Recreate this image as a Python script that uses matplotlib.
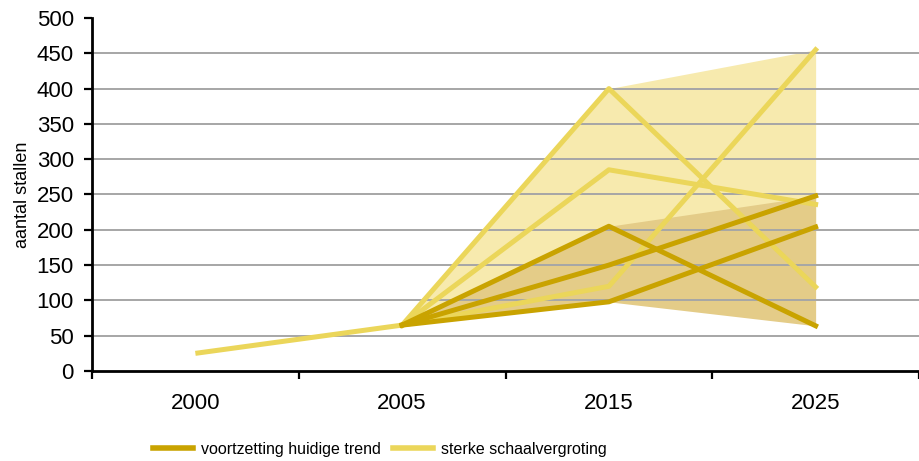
import numpy as np
import matplotlib
matplotlib.use("Agg")
import matplotlib.pyplot as plt
from matplotlib.ticker import FixedLocator

plt.rcParams['font.family'] = ['Liberation Sans', 'DejaVu Sans']

years = ['2000', '2005', '2015', '2025']
history = [25, 65]
trend = [[65, 205, 64], [65, 150, 248], [65, 98, 204]]
schaal = [[65, 400, 119], [65, 285, 236], [65, 120, 455]]

c_dark = '#c9a300'
c_light = '#ebd65a'
f_dark = '#e4cc88'
f_light = '#f7eaae'

x = np.arange(len(years))
xs = x[1:]

fig = plt.figure(figsize=(9.19, 4.61), dpi=100)
ax = fig.add_axes([92 / 919, 90 / 461, 827 / 919, 353 / 461])

sch = np.array(schaal)
tr = np.array(trend)
ax.fill_between(xs, sch.min(axis=0), sch.max(axis=0), color=f_light, lw=0, zorder=1)
ax.fill_between(xs, tr.min(axis=0), tr.max(axis=0), color=f_dark, lw=0, zorder=1.1)

ax.plot(x[:2], history, color=c_light, lw=3.6, solid_capstyle='butt', zorder=2)
for s in schaal:
    ax.plot(xs, s, color=c_light, lw=3.6, zorder=2)
for s in trend:
    ax.plot(xs, s, color=c_dark, lw=3.6, zorder=3)

ax.set_xlim(-0.5, 3.5)
ax.set_ylim(0, 500)
ax.set_yticks(np.arange(0, 501, 50))
ax.set_xticks(x)
ax.set_xticklabels(years)
ax.xaxis.set_minor_locator(FixedLocator(np.arange(-0.5, 4, 1)))
ax.tick_params(axis='x', which='major', length=0, pad=16, labelsize=16)
ax.tick_params(axis='x', which='minor', length=6, width=1.6, direction='out')
ax.tick_params(axis='y', length=6, width=1.6, direction='out', labelsize=16, pad=7)

ax.yaxis.grid(True, color='#a6a6a6', lw=1.4)
ax.get_ygridlines()[-1].set_visible(False)
ax.get_ygridlines()[0].set_visible(False)

for side in ['top', 'right']:
    ax.spines[side].set_visible(False)
for side in ['left', 'bottom']:
    ax.spines[side].set_linewidth(2)

ax.set_ylabel('aantal stallen', fontsize=13, labelpad=4)

h1, = ax.plot([], [], color=c_dark, lw=4)
h2, = ax.plot([], [], color=c_light, lw=4)
fig.legend([h1, h2], ['voortzetting huidige trend', 'sterke schaalvergroting'],
           loc='center', bbox_to_anchor=(380 / 919, 1 - 449 / 461), ncol=2,
           frameon=False, fontsize=11.5, handlelength=2.5, handletextpad=0.5,
           columnspacing=0.8)

fig.savefig('out.png', dpi=100)
